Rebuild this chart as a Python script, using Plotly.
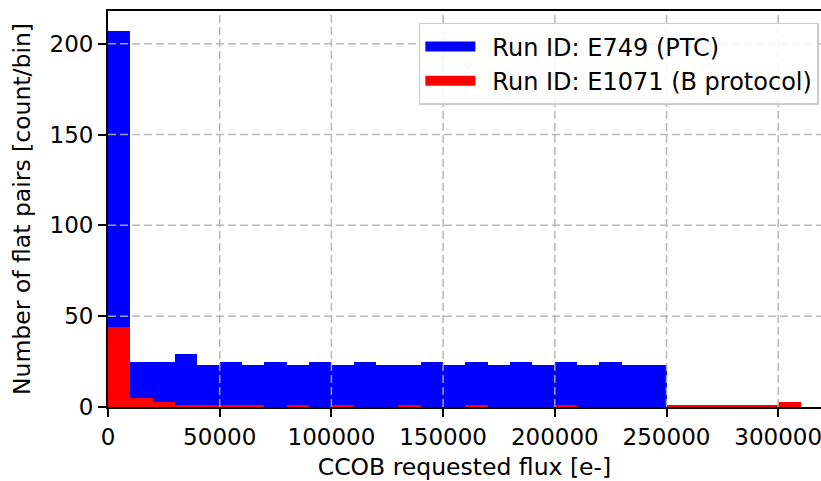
import numpy as np
import plotly.graph_objects as go

# ---- data (histogram counts per 10000 e- bin, starting at 0) ----
bin_width = 10000
blue_label = "Run ID: E749 (PTC)"
red_label = "Run ID: E1071 (B protocol)"
blue_counts = [207, 25, 25, 29, 23, 25, 23, 25, 23, 25, 23, 25, 23, 23, 25,
               23, 25, 23, 25, 23, 25, 23, 25, 23, 23]
red_counts = [44, 5, 3, 1, 1, 1, 1, 0, 1, 0, 1, 0, 0, 1, 0, 0, 1, 0, 0, 0,
              1, 0, 0, 0, 0, 1, 1, 1, 1, 1, 3]
x_ticks = [0, 50000, 100000, 150000, 200000, 250000, 300000]
y_ticks = [0, 50, 100, 150, 200]
x_title = "CCOB requested flux [e-]"
y_title = "Number of flat pairs [count/bin]"

FONT = "DejaVu Sans"
FS = 23

def centers(counts):
    return (np.arange(len(counts)) + 0.5) * bin_width

fig = go.Figure()
fig.add_trace(go.Bar(x=centers(blue_counts), y=blue_counts, width=bin_width,
                     marker=dict(color="#0000ff", line=dict(width=0)),
                     showlegend=False, name=blue_label))
fig.add_trace(go.Bar(x=centers(red_counts), y=red_counts, width=bin_width,
                     marker=dict(color="#ff0000", line=dict(width=0)),
                     showlegend=False, name=red_label))
# legend entries (patch-like wide swatches)
for lab, col in [(blue_label, "#0000ff"), (red_label, "#ff0000")]:
    fig.add_trace(go.Scatter(x=[None], y=[None], mode="lines", name="\u2002" + lab,
                             line=dict(color=col, width=14)))

grid_col = "rgba(176,176,176,0.9)"
shapes = []
for xv in x_ticks[1:]:
    shapes.append(dict(type="line", xref="x", yref="paper", x0=xv, x1=xv, y0=0, y1=1,
                       line=dict(color=grid_col, width=1.5, dash="8px,4px"), layer="above"))
for yv in y_ticks[1:]:
    shapes.append(dict(type="line", xref="paper", yref="y", x0=0, x1=1, y0=yv, y1=yv,
                       line=dict(color=grid_col, width=1.5, dash="8px,4px"), layer="above"))

fig.update_layout(
    width=821, height=481,
    margin=dict(l=108, r=0, t=11, b=74),
    barmode="overlay", bargap=0,
    paper_bgcolor="white", plot_bgcolor="white",
    font=dict(family=FONT, size=FS, color="black"),
    shapes=shapes,
    legend=dict(x=0.997, y=0.9697, xanchor="right", yanchor="top",
                bgcolor="rgba(255,255,255,0.85)", bordercolor="#cccccc", borderwidth=1.5,
                font=dict(family=FONT, size=24, color="black"), itemwidth=50,
                tracegroupgap=0),
    xaxis=dict(range=[0, 319150], tickvals=x_ticks, ticktext=[str(v) for v in x_ticks],
               automargin=False, ticklabeloverflow="allow",
               showgrid=False, zeroline=False, showline=True, linecolor="black",
               linewidth=1.8, mirror=True, ticks="outside", ticklen=8, tickwidth=1.8,
               tickcolor="black", tickfont=dict(family=FONT, size=FS),
               title=dict(text=x_title, font=dict(family=FONT, size=23.5), standoff=27)),
    yaxis=dict(range=[0, 218], tickvals=y_ticks, ticktext=[str(v) for v in y_ticks],
               automargin=False,
               showgrid=False, zeroline=False, showline=True, linecolor="black",
               linewidth=1.8, mirror=False, ticks="outside", ticklen=8, tickwidth=1.8,
               tickcolor="black", tickfont=dict(family=FONT, size=FS),
               title=dict(text=y_title, font=dict(family=FONT, size=23.5), standoff=12)),
)

fig.write_html("out.html", config={"displayModeBar": False},
               post_script="document.body.style.margin='0';document.body.style.overflow='hidden';")
